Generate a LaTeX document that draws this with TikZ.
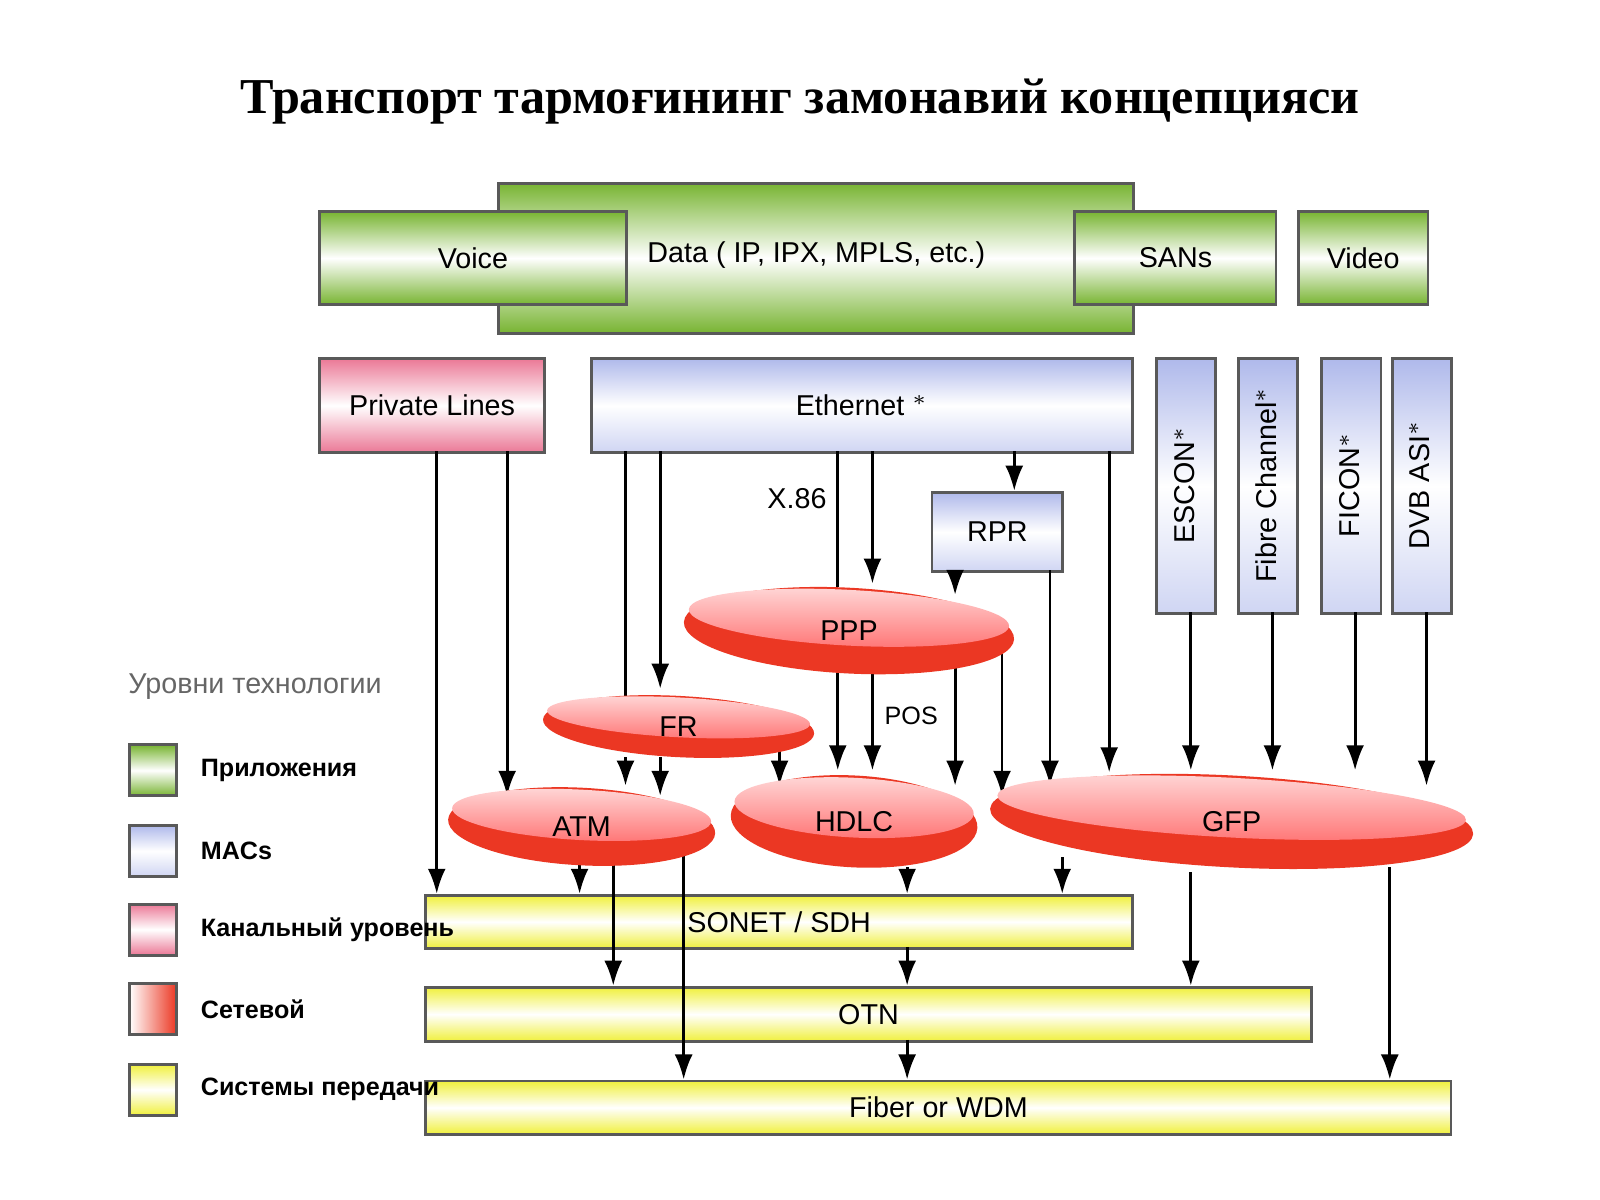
\documentclass[tikz,border=0pt]{standalone}
\usepackage{fontspec}
\setmainfont{Liberation Sans}
\newfontfamily\titlefont{Liberation Serif}
\usetikzlibrary{shapes.geometric,arrows.meta}
\definecolor{appgreen}{RGB}{120,180,50}
\definecolor{macblue}{RGB}{175,185,235}
\definecolor{linkpink}{RGB}{235,120,150}
\definecolor{netred}{RGB}{235,55,35}
\definecolor{sysyellow}{RGB}{240,240,60}
\tikzset{
  box/.style={draw=gray!70!black, thick, inner sep=1pt, font=\fontsize{8}{10}\selectfont},
  app/.style={box, top color=appgreen, bottom color=appgreen, middle color=white},
  mac/.style={box, top color=macblue, bottom color=macblue!60, middle color=white},
  link/.style={box, top color=linkpink, bottom color=linkpink, middle color=white},
  sys/.style={box, top color=sysyellow, bottom color=sysyellow, middle color=white},
  net/.style={font=\fontsize{8}{10}\selectfont},
  arr/.style={-{Latex[length=7pt,width=5pt]}, thick},
  legend/.style={draw=gray!70!black, thick, minimum width=0.46cm, minimum height=0.5cm, inner sep=0pt},
  legtext/.style={anchor=west, font=\fontsize{7}{9}\selectfont\bfseries}
}
\newcommand{\netlayer}[5]{% name, x, y, rx, ry
  \fill[netred] (#2,#3) ellipse [x radius=#4, y radius=#5, rotate=-3];
  \shade[top color=red!15, bottom color=red!55] (#2,#3-#5*0.3) ellipse [x radius=#4*0.97, y radius=#5*0.65, rotate=-3];
  \node[net] (#1) at (#2,#3) {#1};
}
\begin{document}
\begin{tikzpicture}[x=0.01cm, y=-0.01cm]
\useasboundingbox (0,0) rectangle (1568,1176);
\node[font=\titlefont\fontsize{14}{17}\selectfont\bfseries] (title) at (784,100) {Транспорт тармоғининг замонавий концепцияси};

% applications
\node[app, minimum width=6.22cm, minimum height=1.47cm, anchor=north west] (data) at (487,178) {};
\node[net] (datatxt) at (800,250) {Data ( IP, IPX, MPLS, etc.)};
\node[app, minimum width=3cm, minimum height=0.91cm, anchor=north west] (voice) at (312,206) {Voice};
\node[app, minimum width=1.97cm, minimum height=0.91cm, anchor=north west] (sans) at (1052,206) {SANs};
\node[app, minimum width=1.27cm, minimum height=0.91cm, anchor=north west] (video) at (1271,206) {Video};

% MACs
\node[link, minimum width=2.2cm, minimum height=0.92cm, anchor=north west] (pl) at (312,350) {Private Lines};
\node[mac, minimum width=5.3cm, minimum height=0.92cm, anchor=north west] (eth) at (578,350) {Ethernet $^{*}$};
\node[mac, minimum width=1.28cm, minimum height=0.78cm, anchor=north west] (rpr) at (912,481) {RPR};
\foreach \name/\x in {escon/1132, fc/1212, ficon/1294, dvb/1363}
  \node[mac, minimum width=0.58cm, minimum height=2.5cm, anchor=north west] (\name) at (\x,350) {};
\foreach \x/\txt in {1161/ESCON$^{*}$, 1241/Fibre Channel$^{*}$, 1323/FICON$^{*}$, 1391/DVB ASI$^{*}$}
  \node[net, rotate=90] at (\x,475) {\txt};

% transmission systems
\node[sys, minimum width=6.92cm, minimum height=0.52cm, anchor=north west] (sonet) at (416,876) {SONET / SDH};
\node[sys, minimum width=8.67cm, minimum height=0.53cm, anchor=north west] (otn) at (416,966) {OTN};
\node[sys, minimum width=10.04cm, minimum height=0.52cm, anchor=north west] (wdm) at (416,1058) {Fiber or WDM};

% arrows
\foreach \x/\a/\b in {428/442/876, 497/442/780, 647/442/675, 855/442/572, 994/442/481,
  936/559/583, 1029/559/770, 1087/442/757, 613/742/770, 647/742/780, 764/730/770,
  821/660/755, 855/660/755, 936/650/770, 982/640/780,
  1167/600/755, 1247/600/755, 1328/600/755, 1398/600/770,
  568/848/876, 601/848/966, 670/830/1058, 889/850/876, 889/928/966, 889/1019/1058,
  1041/840/876, 1167/855/966, 1362/850/1058}
  \draw[arr] (\x,\a) -- (\x,\b);
\draw[thick] (613,442) -- (613,690);
\draw[thick] (821,442) -- (821,575);
\node[net] (x86) at (781,489) {X.86};
\node[net, font=\fontsize{7}{9}\selectfont] (pos) at (893,702) {POS};

% network layer
\netlayer{PPP}{832}{618}{162}{42}
\netlayer{FR}{665}{712}{133}{30}
\netlayer{ATM}{570}{810}{131}{38}
\netlayer{HDLC}{837}{805}{121}{45}
\netlayer{GFP}{1207}{805}{237}{45}

% legend
\node[font=\fontsize{8}{10}\selectfont, text=gray!80!black] (legtitle) at (250,673) {Уровни технологии};
\node[legend, top color=appgreen, bottom color=appgreen, middle color=white] (lg1) at (150,755) {};
\node[legend, top color=macblue, bottom color=macblue!60, middle color=white] (lg2) at (150,834) {};
\node[legend, top color=linkpink, bottom color=linkpink, middle color=white] (lg3) at (150,911) {};
\node[legend, left color=white, right color=netred] (lg4) at (150,989) {};
\node[legend, top color=sysyellow, bottom color=sysyellow, middle color=white] (lg5) at (150,1068) {};
\node[legtext] at (lg1.east) [xshift=0.1cm] {Приложения};
\node[legtext] at (lg2.east) [xshift=0.1cm] {MACs};
\node[legtext] at (lg3.east) [xshift=0.1cm] {Канальный уровень};
\node[legtext] at (lg4.east) [xshift=0.1cm] {Сетевой};
\node[legtext] at (lg5.east) [xshift=0.1cm] {Системы передачи};
\end{tikzpicture}
\end{document}
